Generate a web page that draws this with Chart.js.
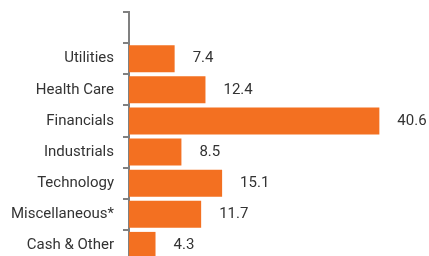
<!DOCTYPE html>
<html>
<head>
<meta charset="utf-8">
<script src="https://cdn.jsdelivr.net/npm/chart.js@4"></script>
<style>
  html, body { margin: 0; padding: 0; background: #fff; overflow: hidden; }
  canvas { display: block; }
</style>
</head>
<body>
<canvas id="sector-chart" width="429" height="261"></canvas>
<script>
// Sector weights (%) - first slot is left empty like the original
let sectors = ["", "Utilities", "Health Care", "Financials", "Industrials", "Technology", "Miscellaneous*", "Cash & Other"];
let weights = [null, 7.4, 12.4, 40.6, 8.5, 15.1, 11.7, 4.3];

let barColor = "#F37021";
let textColor = "#333333";
let axisColor = "#808080";

// value labels at the end of each bar
const valueLabels = {
    id: "valueLabels",
    afterDatasetsDraw(chart) {
        let ctx = chart.ctx;
        let meta = chart.getDatasetMeta(0);
        ctx.save();
        ctx.font = "15px Roboto";
        ctx.fillStyle = textColor;
        ctx.textBaseline = "middle";
        ctx.textAlign = "left";
        meta.data.forEach((bar, i) => {
            if (weights[i] == null) return;
            ctx.fillText(weights[i].toFixed(1), bar.x + 18, bar.y);
        });
        ctx.restore();
    }
};

let sectorData = {
    labels: sectors,
    datasets: [{
        data: weights,
        backgroundColor: barColor,
        barPercentage: 0.87,
        categoryPercentage: 1.0
    }]
};

let sectorOptions = {
    indexAxis: "y",
    responsive: false,
    animation: false,
    layout: {
        padding: { top: 12, right: 4, left: 0, bottom: 0 }
    },
    scales: {
        x: {
            display: false,
            min: 0,
            max: 48
        },
        y: {
            afterFit(scale) {
                scale.width = 129;
                scale.paddingTop = 0;
                scale.paddingBottom = 0;
            },
            border: { display: true, color: axisColor, width: 2 },
            grid: {
                display: true,
                offset: true,
                drawOnChartArea: false,
                color: axisColor,
                lineWidth: 2,
                tickLength: 6
            },
            ticks: {
                color: textColor,
                padding: 9,
                font: { family: "Roboto", size: 15 }
            }
        }
    },
    plugins: {
        legend: { display: false },
        tooltip: { enabled: false }
    }
};

let sectorChart = new Chart(document.getElementById("sector-chart"), {
    type: "bar",
    data: sectorData,
    options: sectorOptions,
    plugins: [valueLabels]
});
</script>
</body>
</html>
